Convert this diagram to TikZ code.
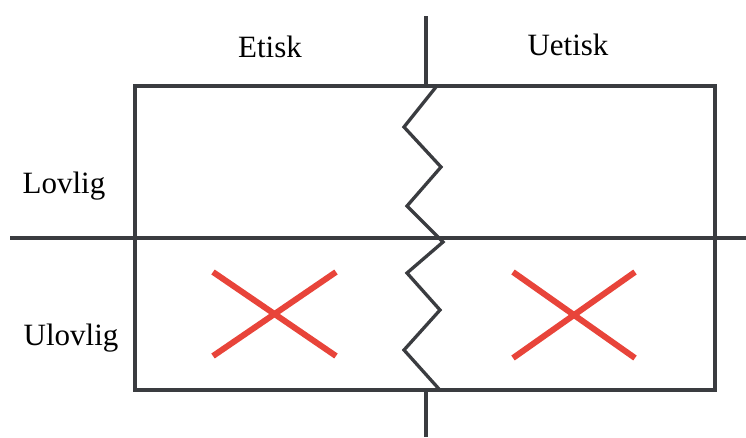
\documentclass[tikz,border=0pt]{standalone}
\usepackage{fontspec}
\setmainfont{Liberation Serif}
\definecolor{lgray}{HTML}{3A3C40}
\definecolor{xred}{HTML}{E8443A}
\begin{document}
\begin{tikzpicture}[x=1pt,y=-1pt,
  gline/.style={draw=lgray, line width=3.3pt},
  zline/.style={draw=lgray, line width=3.3pt, line join=miter},
  xline/.style={draw=xred, line width=6pt},
  lbl/.style={font=\fontsize{31}{37}\selectfont, anchor=base, inner sep=0pt}]
\useasboundingbox (0,0) rectangle (746,437);
% box corners
\coordinate (tl) at (135,86);
\coordinate (br) at (715,390);
\draw[gline] (tl) rectangle (br);
% cross lines
\coordinate (hl) at (10,238);
\coordinate (hr) at (746,238);
\draw[gline] (hl) -- (hr);
\coordinate (vt1) at (426,16);
\coordinate (vt2) at (426,86);
\coordinate (vb1) at (426,390);
\coordinate (vb2) at (426,437);
\draw[gline] (vt1) -- (vt2);
\draw[gline] (vb1) -- (vb2);
% zigzag
\coordinate (z0) at (436,87);
\coordinate (z1) at (404,127);
\coordinate (z2) at (441,167);
\coordinate (z3) at (407,206);
\coordinate (z4) at (443,242);
\coordinate (z5) at (407,273);
\coordinate (z6) at (440,310);
\coordinate (z7) at (404,350);
\coordinate (z8) at (439,389);
\draw[zline] (z0) -- (z1) -- (z2) -- (z3) -- (z4) -- (z5) -- (z6) -- (z7) -- (z8);
% red crosses
\coordinate (a1) at (213,272);
\coordinate (a2) at (336,356);
\coordinate (a3) at (213,356);
\coordinate (a4) at (336,272);
\draw[xline] (a1) -- (a2);
\draw[xline] (a3) -- (a4);
\coordinate (b1) at (513,272);
\coordinate (b2) at (635,358);
\coordinate (b3) at (513,358);
\coordinate (b4) at (635,272);
\draw[xline] (b1) -- (b2);
\draw[xline] (b3) -- (b4);
% labels
\node[lbl] (etisk) at (270,57) {Etisk};
\node[lbl] (uetisk) at (568,55) {Uetisk};
\node[lbl] (lovlig) at (64,193) {Lovlig};
\node[lbl] (ulovlig) at (71,345) {Ulovlig};
\end{tikzpicture}
\end{document}
